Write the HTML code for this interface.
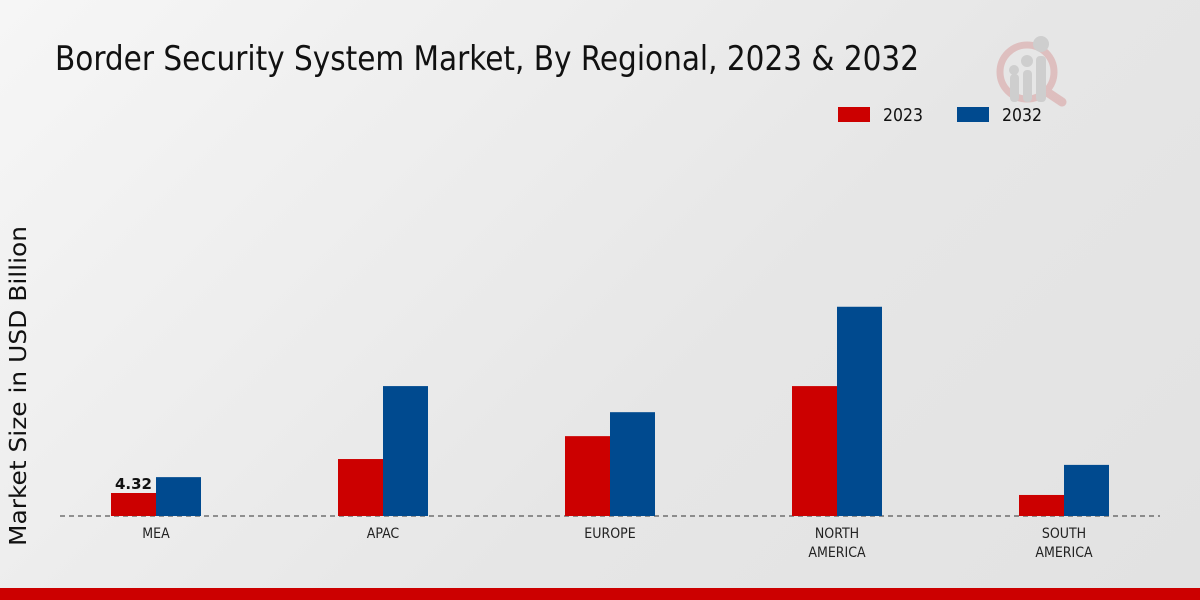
<!DOCTYPE html>
<html><head><meta charset="utf-8"><style>
html,body{margin:0;padding:0}
body{width:1200px;height:600px;overflow:hidden;background:linear-gradient(135deg,#f6f6f6 0%,#e6e6e6 60%,#e2e2e2 100%);font-family:"DejaVu Sans","Liberation Sans",sans-serif;position:relative}
</style></head><body>
<svg width="1200" height="600" style="position:absolute;left:0;top:0">
<text x="55" y="70" font-size="34" font-stretch="condensed" style="font-family:'DejaVu Sans Condensed','DejaVu Sans',sans-serif" fill="#111" textLength="864" lengthAdjust="spacingAndGlyphs">Border Security System Market, By Regional, 2023 &amp; 2032</text>
<g opacity="0.55">
<circle cx="1027" cy="72" r="27" fill="none" stroke="#d9a0a0" stroke-width="7"/>
<line x1="1047" y1="92" x2="1062" y2="102" stroke="#d9a0a0" stroke-width="9" stroke-linecap="round"/>
<rect x="1010" y="74" width="9" height="28" rx="4" fill="#bbb"/><circle cx="1014" cy="70" r="5" fill="#bbb"/>
<rect x="1023" y="70" width="9" height="32" rx="4" fill="#bbb"/><circle cx="1027" cy="61" r="6" fill="#bbb"/>
<rect x="1036" y="56" width="10" height="46" rx="4" fill="#bbb"/><circle cx="1041" cy="44" r="8" fill="#bbb"/>
</g>
<g>
<rect x="838" y="107" width="32" height="15" fill="#cc0000"/>
<text x="883" y="121" font-size="18" fill="#111" textLength="40" lengthAdjust="spacingAndGlyphs">2023</text>
<rect x="957" y="107" width="32" height="15" fill="#004a8f"/>
<text x="1002" y="121" font-size="18" fill="#111" textLength="40" lengthAdjust="spacingAndGlyphs">2032</text>
</g>
<text transform="translate(26,386) rotate(-90)" text-anchor="middle" font-size="23" fill="#111" textLength="320" lengthAdjust="spacingAndGlyphs">Market Size in USD Billion</text>
<line x1="60" y1="516" x2="1160" y2="516" stroke="#333" stroke-width="1" stroke-dasharray="5,4"/>
<g id="bars"></g>
<rect x="0" y="588" width="1200" height="12" fill="#cc0000"/>
</svg>
<script>
const categories = [["MEA"],["APAC"],["EUROPE"],["NORTH","AMERICA"],["SOUTH","AMERICA"]];
const values2023 = [4.32, 10.7, 15.0, 24.4, 3.95];
const values2032 = [7.3, 24.4, 19.5, 39.3, 9.6];
const labelIndex = 0;
const ns="http://www.w3.org/2000/svg";
const g=document.getElementById('bars');
const baseY=516, scale=23/4.32, x0=156, step=227, bw=45;
function yScale(v){return baseY - v*scale;}
function xCenter(i){return x0 + i*step;}
function mk(tag,attrs){const e=document.createElementNS(ns,tag);for(const k in attrs)e.setAttribute(k,attrs[k]);g.appendChild(e);return e;}
categories.forEach((c,i)=>{
  const cx=xCenter(i);
  const r=mk('rect',{x:cx-bw,y:yScale(values2023[i]),width:bw,height:baseY-yScale(values2023[i]),fill:'#cc0000'});
  
  
  const b=mk('rect',{x:cx,y:yScale(values2032[i]),width:bw,height:baseY-yScale(values2032[i]),fill:'#004a8f'});
  
  
  c.forEach((line,j)=>{
    const t=mk('text',{x:cx,y:538+j*19,'text-anchor':'middle','font-size':'14',fill:'#222','font-stretch':'condensed'});
    t.textContent=line;
    
    
  });
  if(i===labelIndex){
    const v=mk('text',{x:cx-bw/2,y:yScale(values2023[i])-4,'text-anchor':'middle','font-size':'15','font-weight':'bold',fill:'#111'});
    v.textContent=values2023[i].toFixed(2);
    
    
  }
});
</script>
</body></html>
